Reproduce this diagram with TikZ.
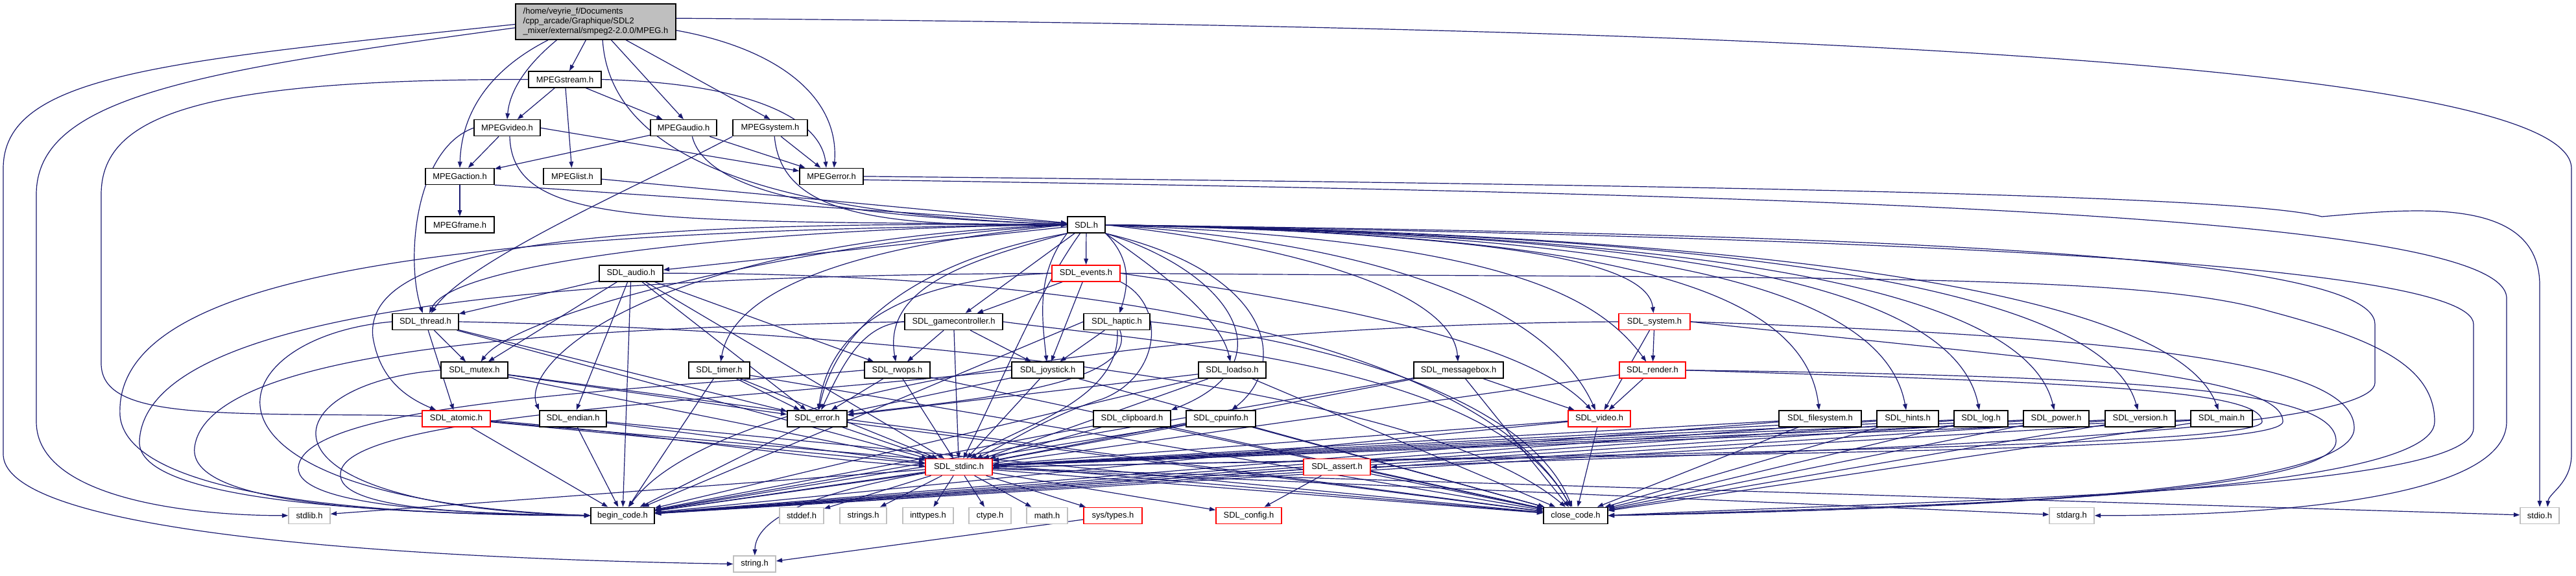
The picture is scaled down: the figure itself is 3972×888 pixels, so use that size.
\documentclass[tikz,border=0pt]{standalone}
\usepackage{fontspec}
\setmainfont{Liberation Sans}
\usetikzlibrary{arrows.meta}
\definecolor{edgec}{RGB}{25,25,112}
\definecolor{grayb}{RGB}{191,191,191}
\pgfdeclarelayer{bg}
\pgfsetlayers{bg,main}
\tikzset{
 hbox/.style={draw=black, fill=white, line width=1.1pt, minimum height=18.75pt, inner sep=0pt, font=\fontsize{9.7}{11.25}\selectfont},
 rbox/.style={hbox, draw=red},
 gbox/.style={hbox, draw=grayb},
 ed/.style={draw=edgec, line width=0.9pt, -{Triangle[length=7pt,width=5pt]}},
}
\newcommand\mknode[6]{\node[#1, minimum width=#5*0.75pt] (#2) at (#3,#4) {#6};}
\begin{document}
\begin{tikzpicture}[x=0.75pt,y=-0.75pt]
\useasboundingbox (0,0) rectangle (3972,888);
\node[hbox, fill=grayb, minimum width=247*0.75pt, minimum height=55*0.75pt, align=left] (m) at (918.5,33.5) {/home/veyrie\_f/Documents\\/cpp\_arcade/Graphique/SDL2\\\_mixer/external/smpeg2-2.0.0/MPEG.h};
\mknode{hbox}{ms}{871}{122.5}{112}{MPEGstream.h}
\mknode{hbox}{mv}{782}{197.2}{102}{MPEGvideo.h}
\mknode{hbox}{ma}{1054}{197.2}{102}{MPEGaudio.h}
\mknode{hbox}{msy}{1187.5}{197.2}{115}{MPEGsystem.h}
\mknode{hbox}{mac}{709}{271.9}{106}{MPEGaction.h}
\mknode{hbox}{ml}{882.5}{271.9}{89}{MPEGlist.h}
\mknode{hbox}{me}{1282}{271.9}{98}{MPEGerror.h}
\mknode{hbox}{mf}{709}{346.6}{106}{MPEGframe.h}
\mknode{hbox}{sdl}{1675}{346.6}{58}{SDL.h}
\mknode{hbox}{audio}{973}{421.3}{98}{SDL\_audio.h}
\mknode{rbox}{events}{1674.5}{421.3}{105}{SDL\_events.h}
\mknode{hbox}{thread}{656}{496}{102}{SDL\_thread.h}
\mknode{hbox}{gc}{1470.5}{496}{151}{SDL\_gamecontroller.h}
\mknode{hbox}{haptic}{1722}{496}{102}{SDL\_haptic.h}
\mknode{rbox}{system}{2551}{496}{110}{SDL\_system.h}
\mknode{hbox}{mutex}{731.5}{570.7}{103}{SDL\_mutex.h}
\mknode{hbox}{timer}{1109}{570.7}{94}{SDL\_timer.h}
\mknode{hbox}{rwops}{1383.5}{570.7}{101}{SDL\_rwops.h}
\mknode{hbox}{joy}{1615.5}{570.7}{111}{SDL\_joystick.h}
\mknode{hbox}{loadso}{1900}{570.7}{104}{SDL\_loadso.h}
\mknode{hbox}{mbox}{2249}{570.7}{138}{SDL\_messagebox.h}
\mknode{rbox}{render}{2548}{570.7}{102}{SDL\_render.h}
\mknode{rbox}{atomic}{703.5}{645.4}{105}{SDL\_atomic.h}
\mknode{hbox}{endian}{883.5}{645.4}{103}{SDL\_endian.h}
\mknode{hbox}{error}{1260}{645.4}{92}{SDL\_error.h}
\mknode{hbox}{clip}{1745.5}{645.4}{119}{SDL\_clipboard.h}
\mknode{hbox}{cpu}{1882.5}{645.4}{107}{SDL\_cpuinfo.h}
\mknode{rbox}{video}{2466}{645.4}{96}{SDL\_video.h}
\mknode{hbox}{fs}{2806.5}{645.4}{127}{SDL\_filesystem.h}
\mknode{hbox}{hints}{2941.5}{645.4}{95}{SDL\_hints.h}
\mknode{hbox}{logh}{3054.5}{645.4}{83}{SDL\_log.h}
\mknode{hbox}{power}{3170.5}{645.4}{101}{SDL\_power.h}
\mknode{hbox}{version}{3300}{645.4}{108}{SDL\_version.h}
\mknode{hbox}{mainh}{3425.5}{645.4}{95}{SDL\_main.h}
\mknode{rbox}{stdinc}{1478.5}{720.1}{103}{SDL\_stdinc.h}
\mknode{rbox}{assert}{2061.5}{720.1}{103}{SDL\_assert.h}
\mknode{gbox}{stdlib}{477}{794.8}{64}{stdlib.h}
\mknode{hbox}{begin}{960}{794.8}{98}{begin\_code.h}
\mknode{gbox}{stddef}{1236}{794.8}{68}{stddef.h}
\mknode{gbox}{strings}{1331}{794.8}{72}{strings.h}
\mknode{gbox}{inttypes}{1431}{794.8}{78}{inttypes.h}
\mknode{gbox}{ctype}{1526.5}{794.8}{65}{ctype.h}
\mknode{gbox}{mathh}{1614.5}{794.8}{63}{math.h}
\mknode{rbox}{systypes}{1716}{794.8}{90}{sys/types.h}
\mknode{rbox}{config}{1925.5}{794.8}{101}{SDL\_config.h}
\mknode{hbox}{close}{2429.5}{794.8}{99}{close\_code.h}
\mknode{gbox}{stdarg}{3194.5}{794.8}{69}{stdarg.h}
\mknode{gbox}{stdio}{3916}{794.8}{60}{stdio.h}
\mknode{gbox}{stringh}{1163.5}{869.5}{65}{string.h}
\begin{pgfonlayer}{bg}
\fill[white] (0,0) rectangle (3972,888);
% MPEG.h
\draw[ed] ([yshift=-3pt]m.west) .. controls (250,95) and (5,115) .. (5,260) -- (5,700) .. controls (5,830) and (700,862) .. (stringh.west);
\draw[ed] ([yshift=-7pt]m.west) .. controls (300,110) and (56,150) .. (56,300) -- (56,650) .. controls (56,770) and (300,795) .. (stdlib.west);
\draw[ed] ([yshift=4pt]m.east) .. controls (2600,40) and (3965,90) .. (3965,260) -- (3965,700) .. controls (3965,745) and (3930,760) .. ([xshift=9pt]stdio.north);
\draw[ed] (m) -- (ms);
\draw[ed] ([xshift=-45pt]m.south) .. controls (800,110) and (785,150) .. (mv.north);
\draw[ed] ([xshift=-55pt]m.south) .. controls (770,100) and (712,160) .. (mac.north);
\draw[ed] ([xshift=18pt]m.south) -- (ma.north);
\draw[ed] ([xshift=35pt]m.south) -- (msy.north);
\draw[ed] ([yshift=-10pt]m.east) .. controls (1200,75) and (1295,150) .. ([xshift=3pt]me.north);
\draw[ed] ([xshift=8pt]m.south) .. controls (940,230) and (1150,330) .. (sdl);
% MPEGstream
\draw[ed] (ms) -- (mv);
\draw[ed] (ms) -- (ml);
\draw[ed] (ms) -- (ma);
\draw[ed] (ms.east) .. controls (1150,128) and (1265,180) .. ([xshift=-6pt]me.north);
\draw[ed] (ms.west) .. controls (300,122) and (156,180) .. (156,300) -- (156,560) .. controls (156,640) and (300,638) .. (580,640) .. controls (850,642) and (1250,712) .. (stdinc);
% MPEGvideo
\draw[ed] (mv) -- (mac);
\draw[ed] (mv.east) -- (me);
\draw[ed] ([xshift=3pt]mv.south) .. controls (790,350) and (1000,340) .. (sdl);
\draw[ed] (mv.west) .. controls (640,230) and (625,400) .. (thread);
% MPEGaudio
\draw[ed] (ma) -- (mac);
\draw[ed] (ma) -- (me);
\draw[ed] ([xshift=10pt]ma.south) .. controls (1090,300) and (1300,335) .. (sdl);
% MPEGsystem
\draw[ed] (msy) -- (me);
\draw[ed] ([xshift=5pt]msy.south) .. controls (1205,330) and (1350,350) .. (sdl);
\draw[ed] (msy.south west) .. controls (1000,280) and (720,400) .. (thread);
% MPEGaction, MPEGlist
\draw[ed] (mac) -- (mf);
\draw[ed] (mac.south east) -- (sdl);
\draw[ed] (ml) -- (sdl);
% MPEGerror
\draw[ed] (me.east) .. controls (2600,285) and (3450,300) .. (3580,334) .. controls (3720,322) and (3916,300) .. (3916,440) -- (stdio);
\draw[ed] ([yshift=-4pt]me.east) .. controls (2800,300) and (3865,330) .. (3865,460) -- (3865,650) .. controls (3865,770) and (3500,795) .. (stdarg.east);
% SDL.h
\draw[ed] (sdl) -- (events);
\draw[ed] (sdl) -- (gc);
\draw[ed] (sdl.south east) .. controls (1745,400) and (1740,440) .. (haptic);
\draw[ed] (sdl.south west) .. controls (1500,400) and (1360,440) .. (rwops);
\draw[ed] (sdl.south west) .. controls (1600,420) and (1605,480) .. (joy);
\draw[ed] (sdl.south east) .. controls (1760,400) and (1880,480) .. (loadso);
\draw[ed] (sdl.south east) .. controls (1900,420) and (1990,560) .. (clip.north east);
\draw[ed] (sdl.south east) .. controls (1960,420) and (1990,560) .. (cpu);
\draw[ed] (sdl.east) .. controls (2000,380) and (2240,450) .. (mbox);
\draw[ed] (sdl.east) .. controls (2300,360) and (2540,400) .. (system);
\draw[ed] (sdl.east) .. controls (2300,370) and (2460,450) .. (render);
\draw[ed] (sdl.east) .. controls (2200,380) and (2400,500) .. (video);
\draw[ed] (sdl.east) .. controls (2400,360) and (2780,420) .. (fs);
\draw[ed] (sdl.east) .. controls (2450,360) and (2900,420) .. (hints);
\draw[ed] (sdl.east) .. controls (2500,360) and (3010,420) .. (logh);
\draw[ed] (sdl.east) .. controls (2550,360) and (3120,430) .. (power);
\draw[ed] (sdl.east) .. controls (2600,360) and (3240,430) .. (version);
\draw[ed] (sdl.east) .. controls (2650,360) and (3350,440) .. (mainh);
\draw[ed] (sdl) .. controls (1600,450) and (1540,600) .. (stdinc);
\draw[ed] (sdl.south west) .. controls (1420,400) and (1290,500) .. (error);
\draw[ed] (sdl.west) .. controls (1300,380) and (1130,450) .. (timer);
\draw[ed] (sdl.west) .. controls (700,355) and (175,420) .. (185,640) .. controls (195,770) and (600,795) .. (begin.west);
\draw[ed] (sdl.west) .. controls (1200,350) and (700,400) .. (thread);
\draw[ed] (sdl.west) .. controls (1250,370) and (800,480) .. (mutex);
\draw[ed] (sdl.west) .. controls (900,340) and (560,380) .. (575,520) .. controls (585,580) and (620,610) .. (atomic);
\draw[ed] (sdl.west) .. controls (1000,370) and (800,560) .. (endian.north west);
\draw[ed] (sdl) -- (audio);
\draw[ed] (sdl.east) .. controls (2700,360) and (3662,380) .. (3662,500) -- (3662,590) .. controls (3662,680) and (2600,700) .. (assert.east);
\draw[ed] (sdl.east) .. controls (2800,365) and (3814,400) .. (3814,500) -- (3814,660) .. controls (3814,760) and (3000,770) .. (close.east);
% SDL_audio
\draw[ed] (audio) -- (thread);
\draw[ed] (audio) -- (mutex);
\draw[ed] (audio) -- (endian);
\draw[ed] (audio) -- (error);
\draw[ed] (audio) -- (rwops);
\draw[ed] (audio) -- (stdinc);
\draw[ed] (audio) -- (begin);
\draw[ed] (audio.east) .. controls (1800,420) and (2300,560) .. (close);
% SDL_events
\draw[ed] (events) -- (gc);
\draw[ed] (events) -- (joy);
\draw[ed] (events.east) .. controls (2000,460) and (2350,520) .. (video);
\draw[ed] (events.west) .. controls (1400,430) and (1280,500) .. (error);
\draw[ed] (events.south east) .. controls (1800,470) and (1790,580) .. (1700,615) .. controls (1620,640) and (1560,680) .. (stdinc);
\draw[ed] (events.west) .. controls (900,425) and (225,470) .. (215,680) .. controls (210,775) and (600,792) .. (begin.west);
\draw[ed] (events.east) .. controls (2800,430) and (3300,420) .. (3500,480) .. controls (3650,520) and (3754,560) .. (3754,650) .. controls (3754,760) and (3000,780) .. (close.east);
% gamecontroller
\draw[ed] (gc) -- (rwops);
\draw[ed] (gc) -- (joy);
\draw[ed] (gc.west) .. controls (1330,500) and (1300,560) .. (error);
\draw[ed] (gc) -- (stdinc);
\draw[ed] (gc.west) .. controls (1000,505) and (320,520) .. (300,690) .. controls (290,780) and (600,792) .. (begin.west);
\draw[ed] (gc.east) .. controls (1800,530) and (2300,560) .. (close);
% haptic
\draw[ed] (haptic) -- (joy);
\draw[ed] (haptic) .. controls (1760,600) and (1450,620) .. (error);
\draw[ed] (haptic) .. controls (1730,620) and (1560,660) .. (stdinc);
\draw[ed] (haptic.west) -- (begin);
\draw[ed] (haptic.east) .. controls (2000,520) and (2350,600) .. (close);
% system
\draw[ed] (system) -- (render);
\draw[ed] (system) -- (video);
\draw[ed] (system.west) .. controls (1800,500) and (1100,600) .. (begin);
\draw[ed] (system.east) .. controls (3200,560) and (3520,580) .. (3520,650) .. controls (3520,700) and (2500,700) .. (stdinc.east);
\draw[ed] (system.east) .. controls (3300,520) and (3630,560) .. (3630,660) .. controls (3630,760) and (3000,785) .. (close.east);
% thread
\draw[ed] (thread) -- (atomic);
\draw[ed] (thread) -- (mutex);
\draw[ed] (thread) -- (error);
\draw[ed] (thread) -- (stdinc);
\draw[ed] (thread.west) .. controls (330,520) and (250,770) .. (begin.west);
\draw[ed] (thread.east) .. controls (1400,510) and (2200,600) .. (close);
% rank 7 nodes
\foreach \s in {mutex,timer,rwops,joy,loadso}{
  \draw[ed] (\s) -- (stdinc);
  \draw[ed] (\s) -- (error);
  \draw[ed] (\s) -- (close);
}
\draw[ed] (mutex.west) .. controls (420,590) and (360,780) .. (begin.west);
\draw[ed] (timer) -- (begin);
\draw[ed] (rwops.west) .. controls (1000,600) and (470,620) .. (460,720) .. controls (455,780) and (700,792) .. (begin.west);
\draw[ed] (joy.west) .. controls (1100,620) and (530,640) .. (525,730) .. controls (520,785) and (720,792) .. (begin.west);
\draw[ed] (loadso) -- (begin);
\draw[ed] (mbox) -- (stdinc);
\draw[ed] (mbox) -- (video);
\draw[ed] (mbox) -- (begin);
\draw[ed] (mbox) -- (close);
\draw[ed] (render) -- (video);
\draw[ed] (render) -- (begin);
\draw[ed] (render.east) .. controls (3200,590) and (3488,600) .. (3488,650) .. controls (3488,690) and (2500,700) .. (stdinc.east);
\draw[ed] (render.east) .. controls (3300,580) and (3602,600) .. (3602,680) .. controls (3602,760) and (3000,785) .. (close.east);
% rank 8 nodes
\foreach \s in {atomic,endian,error,clip,cpu,video,fs,hints,logh,power,version,mainh}{
  \draw[ed] (\s) -- (stdinc);
  \draw[ed] (\s) -- (begin);
  \draw[ed] (\s) -- (close);
}
% SDL_stdinc
\foreach \t in {config,systypes,stdio,stdlib,stddef,stdarg,strings,inttypes,ctype,mathh,begin,close}{
  \draw[ed] (stdinc) -- (\t);
}
\draw[ed] (stdinc) .. controls (1250,760) and (1165,800) .. (stringh);
% SDL_assert
\draw[ed] (assert) -- (config);
\draw[ed] (assert) -- (begin);
\draw[ed] (assert) -- (close);
% sys/types
\draw[ed] (systypes) -- (stringh);
\end{pgfonlayer}
\end{tikzpicture}
\end{document}
